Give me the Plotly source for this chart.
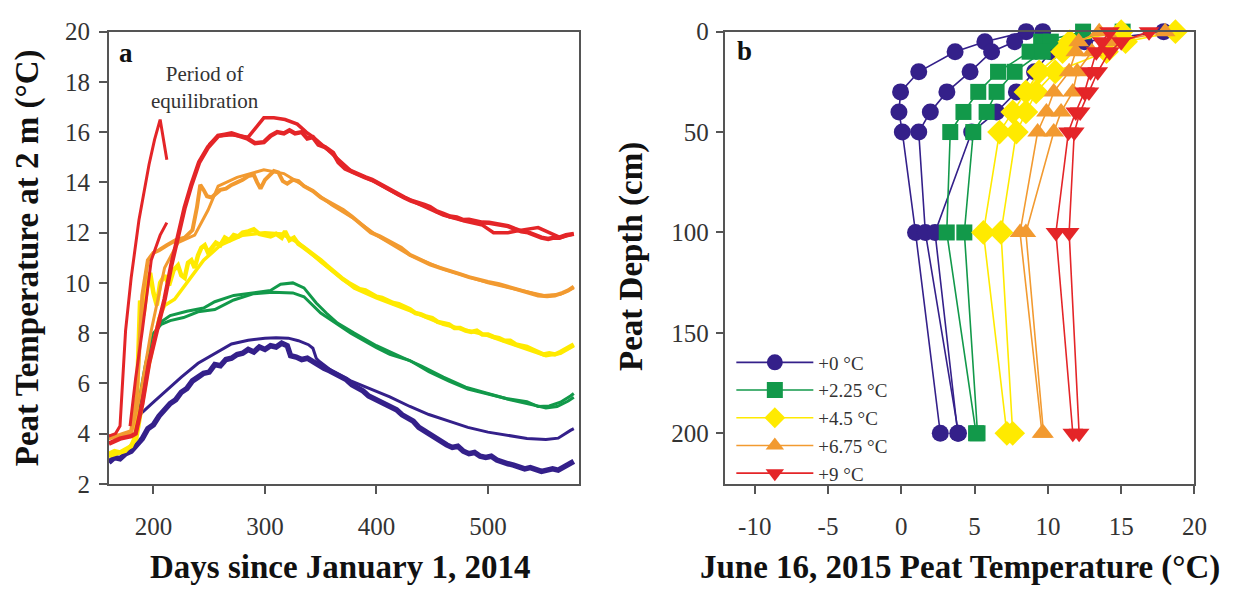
import plotly.graph_objects as go

# ---------------- Panel a: peat temperature at 2 m ----------------
# +0 °C, observed (noisy) record
p0_obs_day = [160, 165, 170, 175, 180, 185, 190, 195, 200, 205, 210, 215, 220, 225, 230, 235, 240, 245,
              250, 255, 260, 265, 270, 275, 280, 285, 290, 295, 300, 305, 310, 315, 320, 323, 328, 333,
              338, 343, 348, 353, 358, 363, 368, 373, 378, 383, 388, 393, 398, 403, 408, 413, 418, 423,
              428, 433, 438, 443, 448, 453, 458, 463, 468, 473, 478, 483, 488, 493, 498, 503, 508, 513,
              518, 523, 528, 533, 538, 543, 548, 553, 558, 563, 568, 573, 577]
p0_obs_temp = [2.85, 3.05, 3.0, 3.2, 3.3, 3.55, 3.8, 4.2, 4.35, 4.7, 4.95, 5.2, 5.35, 5.65, 5.8, 6.1, 6.25, 6.4,
               6.45, 6.75, 6.7, 6.95, 7.0, 7.15, 7.2, 7.35, 7.25, 7.45, 7.35, 7.5, 7.45, 7.6, 7.5, 7.1, 7.05, 6.95,
               7.0, 6.85, 6.75, 6.6, 6.5, 6.4, 6.25, 6.15, 5.95, 5.85, 5.7, 5.5, 5.4, 5.3, 5.2, 5.05, 4.95, 4.75,
               4.6, 4.5, 4.25, 4.1, 3.95, 3.85, 3.7, 3.55, 3.45, 3.5, 3.3, 3.2, 3.25, 3.1, 3.05, 3.1, 2.95, 2.85,
               2.8, 2.75, 2.7, 2.6, 2.65, 2.55, 2.5, 2.55, 2.6, 2.55, 2.7, 2.8, 2.9]
# +0 °C, second (smooth) record
p0_sm_day = [181, 190, 200, 210, 225, 240, 255, 270, 285, 300, 310, 321, 330, 339, 343, 346, 348, 360, 377,
             395, 412, 430, 447, 465, 482, 500, 517, 535, 552, 563, 574, 577]
p0_sm_temp = [4.4, 4.85, 5.25, 5.66, 6.25, 6.8, 7.2, 7.57, 7.72, 7.8, 7.82, 7.8, 7.7, 7.54, 7.4, 7.0, 6.9, 6.5, 6.1,
              5.77, 5.46, 5.08, 4.76, 4.5, 4.25, 4.06, 3.94, 3.81, 3.77, 3.82, 4.13, 4.2]

# +2.25 °C
g1_day = [183, 188, 193, 200, 207, 215, 227, 240, 255, 272, 290, 307, 325, 335, 342, 350, 360, 377, 400, 412,
          430, 447, 465, 482, 500, 517, 535, 545, 555, 565, 574, 577]
g1_temp = [4.3, 5.5, 6.8, 8.0, 8.35, 8.5, 8.62, 8.85, 8.94, 9.32, 9.57, 9.63, 9.6, 9.45, 9.13, 8.8, 8.5, 8.0, 7.42,
           7.16, 6.91, 6.47, 6.09, 5.77, 5.58, 5.39, 5.27, 5.08, 5.1, 5.25, 5.5, 5.6]
g2_day = [183, 190, 196, 202, 207, 215, 230, 245, 255, 272, 290, 305, 314, 325, 335, 346, 355, 365, 380, 400,
          420, 440, 460, 480, 500, 520, 540, 552, 562, 572, 577]
g2_temp = [4.2, 5.8, 7.3, 8.0, 8.45, 8.7, 8.87, 9.0, 9.25, 9.5, 9.62, 9.7, 9.95, 10.0, 9.8, 9.2, 8.8, 8.4, 8.0, 7.5,
           7.1, 6.7, 6.25, 5.85, 5.6, 5.35, 5.15, 5.02, 5.08, 5.3, 5.45]

# +4.5 °C
y1_day = [160, 165, 170, 175, 180, 184, 186, 188, 191, 194, 197, 200, 203, 206, 210, 214, 218, 222, 225, 228,
          231, 234, 237, 240, 243, 246, 249, 252, 256, 260, 264, 268, 272, 276, 280, 285, 290, 295, 300, 305,
          310, 315, 318, 322, 326, 330, 335, 340, 345, 350, 355, 360, 365, 370, 375, 380, 385, 390, 395, 400,
          405, 410, 415, 420, 425, 430, 435, 440, 445, 450, 455, 460, 465, 470, 475, 480, 485, 490, 495, 500,
          505, 510, 515, 520, 525, 530, 535, 540, 545, 550, 555, 560, 565, 570, 575, 577]
y1_temp = [3.2, 3.3, 3.25, 3.4, 3.5, 3.9, 6.5, 9.3, 8.7, 9.8, 10.4, 9.6, 9.1, 10.0, 10.3, 9.9, 10.5, 10.7, 10.3, 10.2,
           10.8, 10.9, 10.6, 11.1, 11.4, 11.5, 11.2, 11.4, 11.6, 11.5, 11.8, 11.7, 11.9, 11.85, 12.0, 12.05, 12.13,
           11.95, 11.9, 11.85, 11.95, 11.8, 12.05, 11.7, 11.8, 11.55, 11.4, 11.25, 11.05, 10.9, 10.7, 10.5, 10.35,
           10.15, 10.0, 9.85, 9.75, 9.7, 9.55, 9.45, 9.4, 9.3, 9.2, 9.15, 9.05, 8.95, 8.8, 8.75, 8.65, 8.6, 8.45,
           8.4, 8.35, 8.2, 8.2, 8.1, 8.05, 8.1, 7.95, 7.95, 7.85, 7.8, 7.7, 7.7, 7.55, 7.5, 7.45, 7.35, 7.25, 7.15,
           7.2, 7.15, 7.25, 7.4, 7.5, 7.55]
y2_day = [160, 175, 185, 195, 205, 210, 219, 230, 245, 260, 280, 300, 315, 330, 350, 380, 400, 430, 460, 500,
          530, 552, 565, 577]
y2_temp = [3.1, 3.3, 3.8, 6.5, 8.6, 9.1, 9.35, 10.0, 10.9, 11.5, 11.9, 12.0, 11.95, 11.6, 10.85, 9.8, 9.4, 8.9,
           8.35, 7.9, 7.45, 7.1, 7.2, 7.5]

# +6.75 °C
o1_day = [160, 170, 180, 185, 190, 195, 200, 205, 212, 220, 228, 235, 239, 242, 245, 248, 252, 256, 260, 265,
          270, 275, 280, 285, 290, 293, 296, 300, 304, 308, 312, 316, 320, 325, 330, 335, 343, 350, 360, 370,
          378, 386, 395, 403, 413, 422, 430, 440, 448, 457, 466, 475, 483, 492, 500, 510, 518, 527, 536, 545,
          553, 560, 567, 572, 577]
o1_temp = [3.9, 3.95, 4.1, 5.5, 9.5, 10.9, 11.2, 11.3, 11.5, 11.7, 11.8, 12.1, 13.0, 13.9, 13.7, 13.45, 13.4, 13.55,
           13.7, 13.75, 13.9, 14.0, 14.1, 14.25, 14.3, 14.0, 13.75, 14.1, 14.3, 14.45, 14.4, 14.05, 13.95, 14.1,
           14.05, 13.85, 13.66, 13.4, 13.15, 12.9, 12.64, 12.35, 12.0, 11.85, 11.63, 11.4, 11.12, 10.9, 10.74,
           10.6, 10.49, 10.35, 10.23, 10.12, 10.04, 9.95, 9.85, 9.72, 9.6, 9.5, 9.47, 9.5, 9.6, 9.7, 9.85]
o2_day = [160, 180, 188, 198, 210, 222, 237, 249, 258, 275, 299, 317, 330, 345, 360, 380, 400, 430, 460, 500,
          530, 550, 565, 577]
o2_temp = [3.8, 4.0, 5.5, 8.1, 10.6, 11.6, 11.9, 12.9, 13.85, 14.2, 14.5, 14.35, 14.0, 13.6, 13.1, 12.55, 11.9,
           11.1, 10.55, 10.0, 9.7, 9.5, 9.55, 9.8]

# +9 °C: two short records during equilibration, then two full records
r_eq1_day = [160, 166, 170, 172, 175, 180, 187, 196, 201, 206, 209, 212]
r_eq1_temp = [3.9, 4.0, 4.3, 6.0, 8.1, 10.2, 12.5, 14.7, 15.7, 16.5, 15.6, 14.9]
r_eq2_day = [179, 184, 190, 198, 206, 212]
r_eq2_temp = [4.3, 6.2, 8.1, 10.9, 11.9, 12.4]
r1_day = [160, 170, 180, 184, 190, 196, 203, 210, 216, 222, 228, 234, 241, 249, 258, 264, 270, 277, 284, 291,
          299, 305, 311, 317, 322, 327, 333, 338, 343, 348, 354, 361, 366, 372, 378, 384, 390, 396, 402, 408,
          413, 419, 425, 431, 437, 443, 448, 454, 460, 466, 472, 478, 483, 489, 495, 501, 507, 513, 518, 524,
          530, 536, 542, 548, 554, 559, 564, 570, 577]
r1_temp = [3.6, 3.8, 3.9, 4.0, 5.2, 6.8, 8.1, 9.35, 10.7, 11.9, 13.0, 13.9, 14.8, 15.4, 15.85, 15.9, 15.95, 15.85,
           15.75, 15.56, 15.6, 15.85, 16.0, 15.95, 16.07, 15.95, 16.0, 15.75, 15.8, 15.5, 15.4, 15.18, 14.8, 14.55,
           14.42, 14.3, 14.2, 14.1, 13.95, 13.8, 13.66, 13.5, 13.4, 13.27, 13.2, 13.1, 13.02, 12.85, 12.75, 12.64,
           12.6, 12.5, 12.51, 12.45, 12.4, 12.39, 12.35, 12.3, 12.26, 12.15, 12.05, 12.01, 11.9, 11.8, 11.75, 11.8,
           11.8, 11.9, 11.95]
r2_day = [250, 258, 270, 285, 299, 308, 318, 329, 337, 343, 353, 361, 368, 378, 390, 400, 420, 440, 460, 480,
          495, 505, 518, 530, 545, 555, 565, 577]
r2_temp = [15.5, 15.85, 15.9, 15.8, 16.57, 16.57, 16.5, 16.32, 16.0, 15.81, 15.43, 15.1, 14.8, 14.42, 14.2, 14.0,
           13.5, 13.1, 12.7, 12.45, 12.3, 12.0, 12.0, 12.1, 12.2, 12.0, 11.8, 11.95]

# ---------------- Panel b: June 16, 2015 depth profiles ----------------
depth_cm = [0, 5, 10, 20, 30, 40, 50, 100, 200]
prof_p0 = [[8.52, 5.7, 3.67, 1.19, -0.05, -0.16, 0.07, 0.97, 2.66],
           [9.65, 7.73, 6.16, 4.69, 3.11, 1.98, 1.19, 1.64, 3.9],
           [17.9, 12.5, 10.2, 9.09, 7.85, 6.5, 4.8, 2.3, 3.85]]
prof_p225 = [[12.4, 9.54, 8.75, 6.6, 5.25, 4.24, 3.34, 3.1, 5.1],
             [15.1, 10.2, 9.65, 7.73, 6.5, 5.82, 4.91, 4.3, 5.2]]
prof_p45 = [[15.0, 11.5, 11.0, 9.4, 8.5, 7.6, 6.7, 5.6, 7.2],
            [18.7, 15.3, 14.0, 10.5, 9.2, 8.5, 7.85, 6.8, 7.6]]
prof_p675 = [[13.5, 12.1, 11.9, 11.45, 10.4, 9.9, 9.3, 8.1, 9.6],
             [18.0, 14.5, 13.0, 12.0, 11.7, 10.9, 10.4, 8.5, 9.7]]
prof_p9 = [[14.2, 13.7, 13.3, 12.9, 12.5, 11.9, 11.4, 10.55, 11.7],
           [16.9, 15.0, 14.2, 13.4, 12.8, 12.2, 11.8, 11.45, 12.13]]

treatments = ["+0 °C", "+2.25 °C", "+4.5 °C", "+6.75 °C", "+9 °C"]
colors = ["#34208A", "#12994A", "#FFEA00", "#F29A30", "#E42528"]
symbols = ["circle", "square", "diamond", "triangle-up", "triangle-down"]
sizes = [17, 16, 19, 18, 18]

# tick values and their printed labels (plain hyphen for negatives)
days_ticks = [200, 300, 400, 500]
temp_ticks_a = list(range(2, 21, 2))
temp_ticks_b = [-10, -5, 0, 5, 10, 15, 20]
temp_labels_b = ["-10", "-5", "0", "5", "10", "15", "20"]
depth_ticks = [0, 50, 100, 150, 200]

SERIF = "Liberation Serif, Times New Roman, serif"

fig = go.Figure()

# panel a traces: (days, temps, colour index, line width)
panel_a = [
    (p0_obs_day, p0_obs_temp, 0, 5.5),
    (p0_sm_day, p0_sm_temp, 0, 3),
    (g1_day, g1_temp, 1, 3),
    (g2_day, g2_temp, 1, 3),
    (y2_day, y2_temp, 2, 3.5),
    (y1_day, y1_temp, 2, 4.5),
    (o2_day, o2_temp, 3, 3),
    (o1_day, o1_temp, 3, 4),
    (r_eq1_day, r_eq1_temp, 4, 3),
    (r_eq2_day, r_eq2_temp, 4, 3),
    (r2_day, r2_temp, 4, 3.5),
    (r1_day, r1_temp, 4, 4.5),
]
for d, t, ci, w in panel_a:
    fig.add_trace(go.Scatter(x=d, y=t, mode="lines", line=dict(color=colors[ci], width=w),
                             showlegend=False, hoverinfo="skip", xaxis="x", yaxis="y"))

# panel b traces (surface markers drawn over the frame, not clipped)
profiles = [prof_p0, prof_p225, prof_p45, prof_p675, prof_p9]
for i, group in enumerate(profiles):
    for j, temps in enumerate(group):
        fig.add_trace(go.Scatter(
            x=temps, y=depth_cm, mode="lines+markers", cliponaxis=False,
            line=dict(color=colors[i], width=1.6),
            marker=dict(symbol=symbols[i], size=sizes[i], color=colors[i],
                        line=dict(width=0)),
            name=treatments[i], legendgroup=treatments[i], showlegend=(j == 0),
            xaxis="x2", yaxis="y2"))

W, H = 1253, 602
ax_common = dict(showgrid=False, zeroline=False, showline=True, linecolor="#555555", linewidth=1.5,
                 mirror=True, ticks="outside", ticklen=8, tickwidth=1.5, tickcolor="#555555",
                 tickfont=dict(family=SERIF, size=25, color="#333333"))

fig.update_layout(
    width=W, height=H,
    margin=dict(l=0, r=0, t=0, b=0),
    paper_bgcolor="white", plot_bgcolor="white",
    xaxis=dict(domain=[110 / W, 585 / W], range=[160, 581.6], tickvals=days_ticks,
               anchor="y", ticklabelstandoff=11, **ax_common),
    yaxis=dict(domain=[1 - 493 / H, 1 - 19.5 / H], range=[2, 20], tickvals=temp_ticks_a,
               anchor="x", ticklabelstandoff=4, **ax_common),
    xaxis2=dict(domain=[733 / W, 1207 / W], range=[-12, 20], tickvals=temp_ticks_b, ticktext=temp_labels_b,
                anchor="y2", ticklabelstandoff=11, **ax_common),
    yaxis2=dict(domain=[1 - 493 / H, 1 - 19.5 / H], range=[225.2, 0], tickvals=depth_ticks,
                anchor="x2", ticklabelstandoff=2, **ax_common),
    legend=dict(x=739 / W, y=1 - 346 / H, xanchor="left", yanchor="top",
                bgcolor="rgba(0,0,0,0)", itemwidth=77, tracegroupgap=0,
                font=dict(family=SERIF, size=19, color="#333333")),
    showlegend=True,
)

title_font = dict(family=SERIF, size=33, color="#111111")
annotations = [
    dict(text="<b>Days since January 1, 2014</b>", x=344 / W, y=1 - 580 / H, font=title_font),
    dict(text="<b>June 16, 2015 Peat Temperature (°C)</b>", x=970 / W, y=1 - 581 / H, font=title_font),
    dict(text="<b>Peat Temperature at 2 m (°C)</b>", x=28 / W, y=1 - 256 / H, font=title_font, textangle=-90),
    dict(text="<b>Peat Depth (cm)</b>", x=638 / W, y=1 - 255 / H, font=title_font, textangle=-90),
    dict(text="<b>a</b>", x=127 / W, y=1 - 42 / H, font=dict(family=SERIF, size=27, color="#111111")),
    dict(text="<b>b</b>", x=752 / W, y=1 - 40 / H, font=dict(family=SERIF, size=27, color="#111111")),
    dict(text="Period of<br>equilibration", x=207 / W, y=1 - 78 / H,
         font=dict(family=SERIF, size=21, color="#333333")),
]
for a in annotations:
    a.update(xref="paper", yref="paper", showarrow=False, xanchor="center", yanchor="middle")
fig.update_layout(annotations=annotations)

fig.write_html("out.html")
